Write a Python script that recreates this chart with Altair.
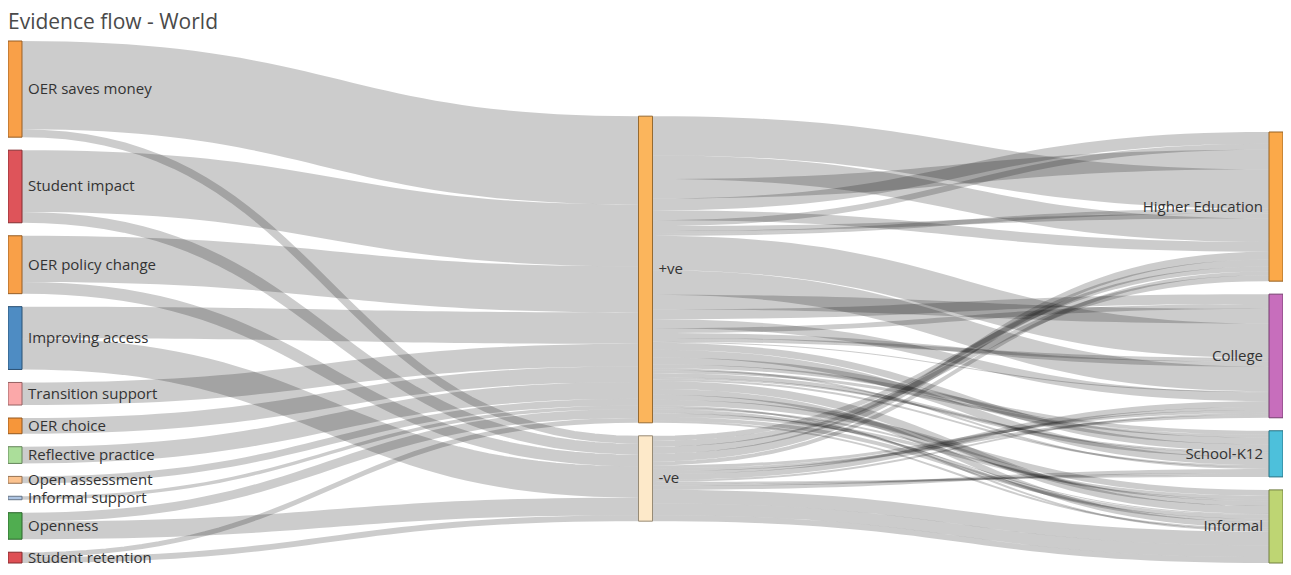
import altair as alt
import pandas as pd

# ---------------- data ----------------
TITLE = "Evidence flow - World"

topics = ["OER saves money", "Student impact", "OER policy change", "Improving access",
          "Transition support", "OER choice", "Reflective practice", "Open assessment",
          "Informal support", "Openness", "Student retention"]
topic_colors = ["#f99b3e", "#dc4b51", "#f99b3e", "#4586c0", "#fba3a4", "#f5902f",
                "#a6dc95", "#fcc089", "#aac2e2", "#47a947", "#dc464b"]

sentiments = ["+ve", "-ve"]
sentiment_colors = ["#fbb153", "#fde8c6"]

sectors = ["Higher Education", "College", "School-K12", "Informal"]
sector_colors = ["#fba43f", "#c466b8", "#43bdd9", "#bbd36c"]

# positive evidence, per topic (order of `topics`), by sector
pos_higher_ed = [40, 24, 20, 12, 10, 6, 5, 3, 0, 2, 0]
pos_college = [35, 25, 15, 10, 9, 5, 5, 2, 0, 2, 1]
pos_school = [7, 8, 7, 4, 2, 3, 4, 1, 0, 1, 2]
pos_informal = [8, 6, 5, 6, 2, 2, 3, 1, 3.5, 4, 2]
# negative evidence, per topic, by sector
neg_higher_ed = [5, 6, 7, 8, 0, 0, 0, 0, 0, 4, 0]
neg_college = [3, 3, 3, 6, 0, 0, 0, 0, 0, 2, 0]
neg_school = [0, 2, 2, 4, 0, 0, 0, 0, 0, 0, 0]
neg_informal = [0, 0, 0, 14, 0, 0, 0, 0, 0, 12, 6]

# ---------------- layout settings ----------------
W, H = 1275, 522
NODE_W = 14
PAD = 13
TOP = 33
ITER = 32
SAMPLES = 40


def darker(hex_color, f=0.6):
    h = hex_color.lstrip("#")
    r, g, b = (int(h[i:i + 2], 16) for i in (0, 2, 4))
    return "#%02x%02x%02x" % (int(r * f), int(g * f), int(b * f))


nodes = []
links = []


def add_node(name, col, color):
    nodes.append(dict(name=name, col=col, color=color, src=[], tgt=[]))
    return len(nodes) - 1


def add_link(s, t, v, tag):
    if v <= 0:
        return
    l = dict(s=s, t=t, v=v, tag=tag)
    links.append(l)
    nodes[s]["src"].append(l)
    nodes[t]["tgt"].append(l)


topic_ids = [add_node(n, 0, c) for n, c in zip(topics, topic_colors)]
sent_ids = [add_node(n, 1, c) for n, c in zip(sentiments, sentiment_colors)]
sector_ids = [add_node(n, 2, c) for n, c in zip(sectors, sector_colors)]

by_sent = [
    [pos_higher_ed, pos_college, pos_school, pos_informal],
    [neg_higher_ed, neg_college, neg_school, neg_informal],
]

for i in range(len(topics)):
    for s in range(2):
        add_link(topic_ids[i], sent_ids[s], sum(by_sent[s][j][i] for j in range(4)), i)
for s in range(2):
    for i in range(len(topics)):
        for j in range(4):
            add_link(sent_ids[s], sector_ids[j], by_sent[s][j][i], i)

for n in nodes:
    n["value"] = max(sum(l["v"] for l in n["src"]), sum(l["v"] for l in n["tgt"]))
    n["x"] = n["col"] * (W - NODE_W) / 2

cols = [[n for n in nodes if n["col"] == c] for c in range(3)]
ky = min((H - (len(c) - 1) * PAD) / sum(n["value"] for n in c) for c in cols)
for c in cols:
    for i, n in enumerate(c):
        n["y"] = i
        n["dy"] = n["value"] * ky
for l in links:
    l["dy"] = l["v"] * ky


def center(n):
    return n["y"] + n["dy"] / 2


def resolve():
    for c in cols:
        c.sort(key=lambda n: n["y"])
        y0 = 0
        for n in c:
            d = y0 - n["y"]
            if d > 0:
                n["y"] += d
            y0 = n["y"] + n["dy"] + PAD
        d = y0 - PAD - H
        if d > 0:
            c[-1]["y"] -= d
            y0 = c[-1]["y"]
            for n in reversed(c[:-1]):
                d = n["y"] + n["dy"] + PAD - y0
                if d > 0:
                    n["y"] -= d
                y0 = n["y"]


resolve()
alpha = 1.0
for _ in range(ITER):
    alpha *= 0.99
    for c in reversed(cols[1:]):
        for n in c:
            if n["src"]:
                y = sum(center(nodes[l["t"]]) * l["v"] for l in n["src"]) / sum(l["v"] for l in n["src"])
                n["y"] += (y - center(n)) * alpha
    resolve()
    for c in cols[1:]:
        for n in c:
            if n["tgt"]:
                y = sum(center(nodes[l["s"]]) * l["v"] for l in n["tgt"]) / sum(l["v"] for l in n["tgt"])
                n["y"] += (y - center(n)) * alpha
    resolve()

for n in nodes:
    n["src"].sort(key=lambda l: (nodes[l["t"]]["y"], l["tag"]))
    if n["col"] == 2:
        n["tgt"].sort(key=lambda l: (nodes[l["s"]]["y"], topics[l["tag"]]))
    else:
        n["tgt"].sort(key=lambda l: (nodes[l["s"]]["y"], l["tag"]))
    sy = 0
    for l in n["src"]:
        l["sy"] = sy
        sy += l["dy"]
    ty = 0
    for l in n["tgt"]:
        l["ty"] = ty
        ty += l["dy"]

rows = []
for li, l in enumerate(links):
    s, t = nodes[l["s"]], nodes[l["t"]]
    x0 = s["x"] + NODE_W
    x1 = t["x"]
    xm = (x0 + x1) / 2
    y0 = s["y"] + l["sy"] + l["dy"] / 2
    y1 = t["y"] + l["ty"] + l["dy"] / 2
    for k in range(SAMPLES + 1):
        u = k / SAMPLES
        a, b, c_, d = (1 - u) ** 3, 3 * (1 - u) ** 2 * u, 3 * (1 - u) * u ** 2, u ** 3
        rows.append(dict(lid=li, k=k,
                         x=a * x0 + b * xm + c_ * xm + d * x1,
                         y=a * y0 + b * y0 + c_ * y1 + d * y1,
                         w=max(1.0, l["dy"])))
link_df = pd.DataFrame(rows)

node_df = pd.DataFrame([
    dict(name=n["name"], x0=n["x"], x1=n["x"] + NODE_W, y0=n["y"], y1=n["y"] + n["dy"],
         cy=n["y"] + n["dy"] / 2, fill=n["color"], stroke=darker(n["color"]),
         tx=(n["x"] + NODE_W + 6) if n["x"] < W / 2 else (n["x"] - 6),
         side="left" if n["x"] < W / 2 else "right")
    for n in nodes
])
title_df = pd.DataFrame({"title": [TITLE]})

xs = alt.Scale(domain=[0, W], nice=False, zero=False)
ys = alt.Scale(domain=[0, H], nice=False, zero=False, reverse=True)

link_layer = alt.Chart(link_df).mark_line(
    color="#000000", strokeOpacity=0.2, strokeCap="butt", interpolate="linear"
).encode(
    x=alt.X("x:Q", scale=xs, axis=None),
    y=alt.Y("y:Q", scale=ys, axis=None),
    detail="lid:N",
    order="k:Q",
    strokeWidth=alt.StrokeWidth("w:Q", scale=None, legend=None),
)

node_layer = alt.Chart(node_df).mark_rect(strokeWidth=1, fillOpacity=0.95).encode(
    x=alt.X("x0:Q", scale=xs, axis=None),
    x2="x1:Q",
    y=alt.Y("y0:Q", scale=ys, axis=None),
    y2="y1:Q",
    fill=alt.Fill("fill:N", scale=None),
    stroke=alt.Stroke("stroke:N", scale=None),
)

label_left = alt.Chart(node_df).transform_filter(alt.datum.side == "left").mark_text(
    align="left", baseline="middle", font="Open Sans", fontSize=15, color="#333333"
).encode(
    x=alt.X("tx:Q", scale=xs, axis=None),
    y=alt.Y("cy:Q", scale=ys, axis=None),
    text="name:N",
)

label_right = alt.Chart(node_df).transform_filter(alt.datum.side == "right").mark_text(
    align="right", baseline="middle", font="Open Sans", fontSize=15, color="#333333"
).encode(
    x=alt.X("tx:Q", scale=xs, axis=None),
    y=alt.Y("cy:Q", scale=ys, axis=None),
    text="name:N",
)

title_layer = alt.Chart(title_df).mark_text(
    align="left", baseline="alphabetic", font="Open Sans", fontSize=21, color="#4a4a4a"
).encode(
    x=alt.value(0),
    y=alt.value(-12),
    text="title:N",
)

chart = alt.layer(link_layer, node_layer, label_left, label_right, title_layer).properties(
    width=W,
    height=H,
    padding={"left": 0, "right": 0, "top": TOP, "bottom": 559 - TOP - H},
    autosize=alt.AutoSizeParams(type="none"),
).configure_view(stroke=None)

chart.save("out.html", embed_options={"renderer": "svg", "actions": False})
